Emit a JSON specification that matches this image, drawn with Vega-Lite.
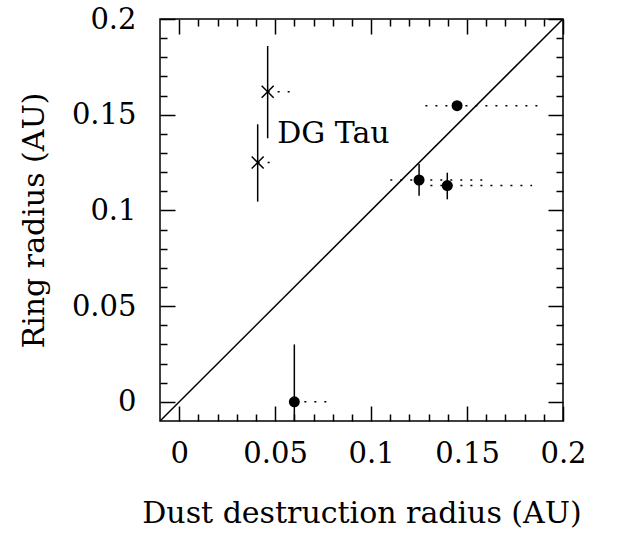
{
  "$schema": "https://vega.github.io/schema/vega-lite/v6.json",
  "width": 403,
  "height": 402,
  "autosize": "none",
  "padding": {"left": 160, "top": 19, "right": 63, "bottom": 115},
  "background": "white",
  "config": {
    "view": {"stroke": "black", "strokeWidth": 1.5},
    "font": "DejaVu Serif",
    "axis": {"domain": false, "grid": false, "tickColor": "black", "tickWidth": 1.5, "zindex": 1}
  },
  "datasets": {
    "diag": [{"x": -0.01, "y": -0.01, "x2": 0.2, "y2": 0.2}],
    "obs": [
      {"kind": "circle", "x": 0.060, "y": 0.0, "ylo": -0.01, "yhi": 0.030, "xlo": 0.060, "xhi": 0.077},
      {"kind": "circle", "x": 0.1448, "y": 0.1547, "ylo": 0.1547, "yhi": 0.1547, "xlo": 0.1283, "xhi": 0.190},
      {"kind": "circle", "x": 0.125, "y": 0.1159, "ylo": 0.1077, "yhi": 0.1243, "xlo": 0.110, "xhi": 0.162},
      {"kind": "circle", "x": 0.1397, "y": 0.113, "ylo": 0.1058, "yhi": 0.1197, "xlo": 0.1309, "xhi": 0.1839},
      {"kind": "cross", "x": 0.0461, "y": 0.162, "ylo": 0.1377, "yhi": 0.1859, "xlo": 0.0461, "xhi": 0.058},
      {"kind": "cross", "x": 0.0409, "y": 0.125, "ylo": 0.1046, "yhi": 0.145, "xlo": 0.0409, "xhi": 0.049}
    ],
    "label": [{"x": 0.0511, "y": 0.1351, "text": "DG Tau"}]
  },
  "layer": [
    {
      "data": {"name": "diag"},
      "mark": {"type": "rule", "color": "black", "strokeWidth": 1.5, "clip": true},
      "encoding": {
        "x": {
          "field": "x", "type": "quantitative",
          "scale": {"domain": [-0.01, 0.2], "nice": false, "zero": false},
          "axis": {
            "orient": "bottom",
            "values": [0, 0.05, 0.1, 0.15, 0.2],
            "labelExpr": "format(datum.value, '.2~f')",
            "tickSize": -15,
            "labelFont": "DejaVu Serif", "labelFontSize": 29, "labelColor": "black",
            "labelPadding": 33, "labelFlush": false, "labelOverlap": false,
            "title": "Dust destruction radius (AU)",
            "titleFont": "DejaVu Serif", "titleFontSize": 30, "titleFontWeight": "normal", "titleColor": "black",
            "titlePadding": 30
          }
        },
        "y": {
          "field": "y", "type": "quantitative",
          "scale": {"domain": [-0.01, 0.2], "nice": false, "zero": false},
          "axis": {
            "orient": "left",
            "values": [0, 0.05, 0.1, 0.15, 0.2],
            "labelExpr": "format(datum.value, '.2~f')",
            "tickSize": -15,
            "labelFont": "DejaVu Serif", "labelFontSize": 29, "labelColor": "black",
            "labelPadding": 39, "labelFlush": false, "labelOverlap": false,
            "title": "Ring radius (AU)",
            "titleFont": "DejaVu Serif", "titleFontSize": 30, "titleFontWeight": "normal", "titleColor": "black",
            "titlePadding": 22
          }
        },
        "x2": {"field": "x2"},
        "y2": {"field": "y2"}
      }
    },
    {
      "data": {"name": "obs"},
      "mark": {"type": "rule", "color": "black", "strokeWidth": 1.5, "strokeDash": [2, 8], "clip": true},
      "encoding": {
        "x": {"field": "xlo", "type": "quantitative", "scale": {"domain": [-0.01, 0.2], "nice": false, "zero": false},
          "axis": {"orient": "top", "values": [0, 0.05, 0.1, 0.15, 0.2], "labels": false, "title": null, "tickSize": -15}},
        "x2": {"field": "xhi"},
        "y": {"field": "y", "type": "quantitative", "scale": {"domain": [-0.01, 0.2], "nice": false, "zero": false},
          "axis": {"orient": "right", "values": [0, 0.05, 0.1, 0.15, 0.2], "labels": false, "title": null, "tickSize": -15}}
      }
    },
    {
      "data": {"name": "obs"},
      "mark": {"type": "rule", "color": "black", "strokeWidth": 1.5, "clip": true},
      "encoding": {
        "x": {"field": "x", "type": "quantitative", "scale": {"domain": [-0.01, 0.2], "nice": false, "zero": false},
          "axis": {"orient": "bottom", "values": [0.01, 0.02, 0.03, 0.04, 0.06, 0.07, 0.08, 0.09, 0.11, 0.12, 0.13, 0.14, 0.16, 0.17, 0.18, 0.19], "labels": false, "title": null, "tickSize": -7}},
        "y": {"field": "ylo", "type": "quantitative", "scale": {"domain": [-0.01, 0.2], "nice": false, "zero": false},
          "axis": {"orient": "left", "values": [0.01, 0.02, 0.03, 0.04, 0.06, 0.07, 0.08, 0.09, 0.11, 0.12, 0.13, 0.14, 0.16, 0.17, 0.18, 0.19], "labels": false, "title": null, "tickSize": -7}},
        "y2": {"field": "yhi"}
      }
    },
    {
      "data": {"name": "obs"},
      "transform": [{"filter": "datum.kind == 'circle'"}],
      "mark": {"type": "point", "shape": "circle", "filled": true, "color": "black", "size": 121, "opacity": 1},
      "encoding": {
        "x": {"field": "x", "type": "quantitative", "scale": {"domain": [-0.01, 0.2], "nice": false, "zero": false},
          "axis": {"orient": "top", "values": [0.01, 0.02, 0.03, 0.04, 0.06, 0.07, 0.08, 0.09, 0.11, 0.12, 0.13, 0.14, 0.16, 0.17, 0.18, 0.19], "labels": false, "title": null, "tickSize": -7}},
        "y": {"field": "y", "type": "quantitative", "scale": {"domain": [-0.01, 0.2], "nice": false, "zero": false},
          "axis": {"orient": "right", "values": [0.01, 0.02, 0.03, 0.04, 0.06, 0.07, 0.08, 0.09, 0.11, 0.12, 0.13, 0.14, 0.16, 0.17, 0.18, 0.19], "labels": false, "title": null, "tickSize": -7}}
      }
    },
    {
      "data": {"name": "obs"},
      "transform": [{"filter": "datum.kind == 'cross'"}],
      "mark": {"type": "point", "shape": "M-1,-1L1,1M1,-1L-1,1", "filled": false, "color": "black", "strokeWidth": 1.5, "size": 144, "opacity": 1},
      "encoding": {
        "x": {"field": "x", "type": "quantitative", "scale": {"domain": [-0.01, 0.2], "nice": false, "zero": false}, "axis": null},
        "y": {"field": "y", "type": "quantitative", "scale": {"domain": [-0.01, 0.2], "nice": false, "zero": false}, "axis": null}
      }
    },
    {
      "data": {"name": "label"},
      "mark": {"type": "text", "align": "left", "baseline": "alphabetic", "font": "DejaVu Serif", "fontSize": 30, "color": "black"},
      "encoding": {
        "x": {"field": "x", "type": "quantitative", "scale": {"domain": [-0.01, 0.2], "nice": false, "zero": false}, "axis": null},
        "y": {"field": "y", "type": "quantitative", "scale": {"domain": [-0.01, 0.2], "nice": false, "zero": false}, "axis": null},
        "text": {"field": "text"}
      }
    }
  ],
  "resolve": {"axis": {"x": "independent", "y": "independent"}}
}
